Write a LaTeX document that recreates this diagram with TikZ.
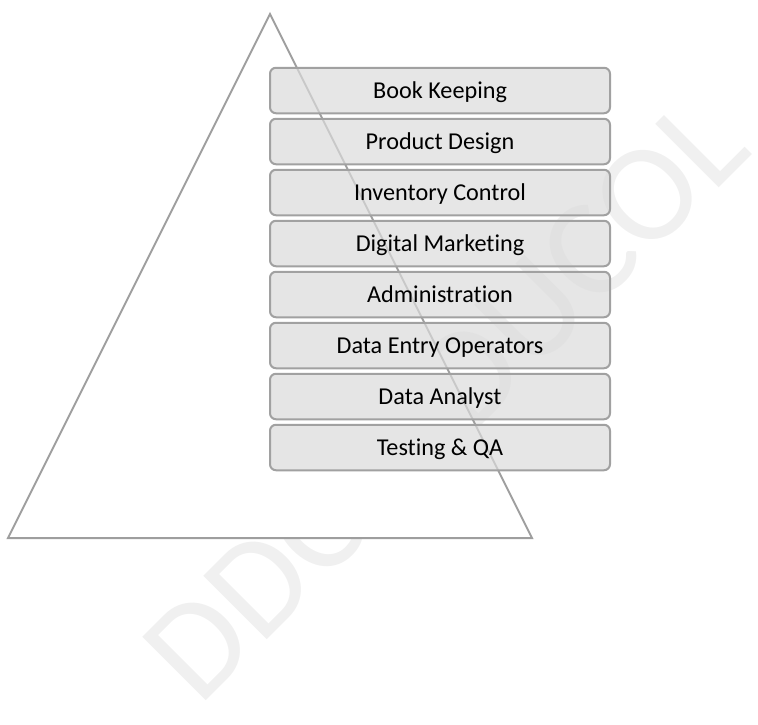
\documentclass[tikz,border=0pt]{standalone}
\usepackage{fontspec}
\setmainfont{Carlito}[RawFeature={-liga}]
\begin{document}
\begin{tikzpicture}[x=1pt,y=-1pt,
  wmark/.style={text=black!6, font=\fontsize{140}{150}\selectfont, rotate=45, inner sep=0pt},
  tri/.style={draw=black!38, line width=2pt, fill=white, line join=miter},
  layerbox/.style={draw=black!37, line width=2pt, fill=black!14, fill opacity=0.7, draw opacity=1, text opacity=1,
    rounded corners=6pt, minimum width=340pt, minimum height=45.5pt, inner sep=0pt,
    text height=15.5pt, text depth=0pt, font=\fontsize{24.2}{28}\selectfont, text=black}]
\useasboundingbox (0,0) rectangle (758,724);
\node[wmark] (wm) at (445,398) {DDCEEDUCOL};
\coordinate (apex) at (270,14);
\coordinate (bl) at (8,538);
\coordinate (br) at (532,538);
\draw[tri] (apex) -- (br) -- (bl) -- cycle;
\foreach \i/\t in {0/Book Keeping,1/Product Design,2/Inventory Control,3/Digital Marketing,4/Administration,5/Data Entry Operators,6/Data Analyst,7/Testing \& QA}{
  \node[layerbox] (b\i) at (440,{90.5+51*\i}) {\t};
}
\end{tikzpicture}
\end{document}
